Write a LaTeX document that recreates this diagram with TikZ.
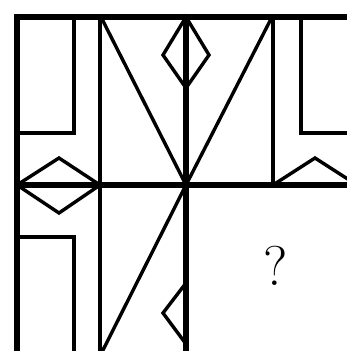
\documentclass[tikz,border=0pt]{standalone}
\begin{document}
\begin{tikzpicture}[x=1pt,y=-1pt,
  heavy/.style={line width=5.6pt,line cap=rect},
  medium/.style={line width=4pt},
  light/.style={line width=3.4pt,line join=miter}]
\useasboundingbox (0,0) rectangle (347,351);
\clip (0,0) rectangle (347,351);
\fill[white] (0,0) rectangle (347,351);
% thin inner verticals
\draw[medium] (100,17) -- (100,360);
\draw[medium] (273,17) -- (273,185);
% top-left rectangle
\draw[light] (17,17) -- (17,133) -- (74,133) -- (74,17);
% top-right rectangle
\draw[light] (360,133) -- (301,133) -- (301,17);
% bottom-left rectangle
\draw[light] (17,360) -- (17,237) -- (74,237) -- (74,360);
% left diamond
\draw[light] (17,185) -- (59,158) -- (100,185) -- (59,213) -- cycle;
% right half diamond
\draw[light] (273,185) -- (315,158) -- (357,185);
% V shape
\draw[light] (101,17) -- (186,185) -- (272,17);
% lower diagonal
\draw[light] (186,185) -- (101,354);
% top diamond
\draw[light] (186,17) -- (163,55) -- (186,88) -- (209,55) -- cycle;
% bottom half diamond
\draw[light] (186,283) -- (163,313) -- (186,344);
% heavy grid
\draw[heavy] (17,17) -- (360,17);
\draw[heavy] (17,17) -- (17,360);
\draw[heavy] (17,185) -- (360,185);
\draw[heavy] (186,17) -- (186,360);
\draw[heavy] (17,354) -- (186,354);
\node[font=\fontsize{56}{56}\selectfont, inner sep=0pt] (q) at (276,266) {?};
\end{tikzpicture}
\end{document}
